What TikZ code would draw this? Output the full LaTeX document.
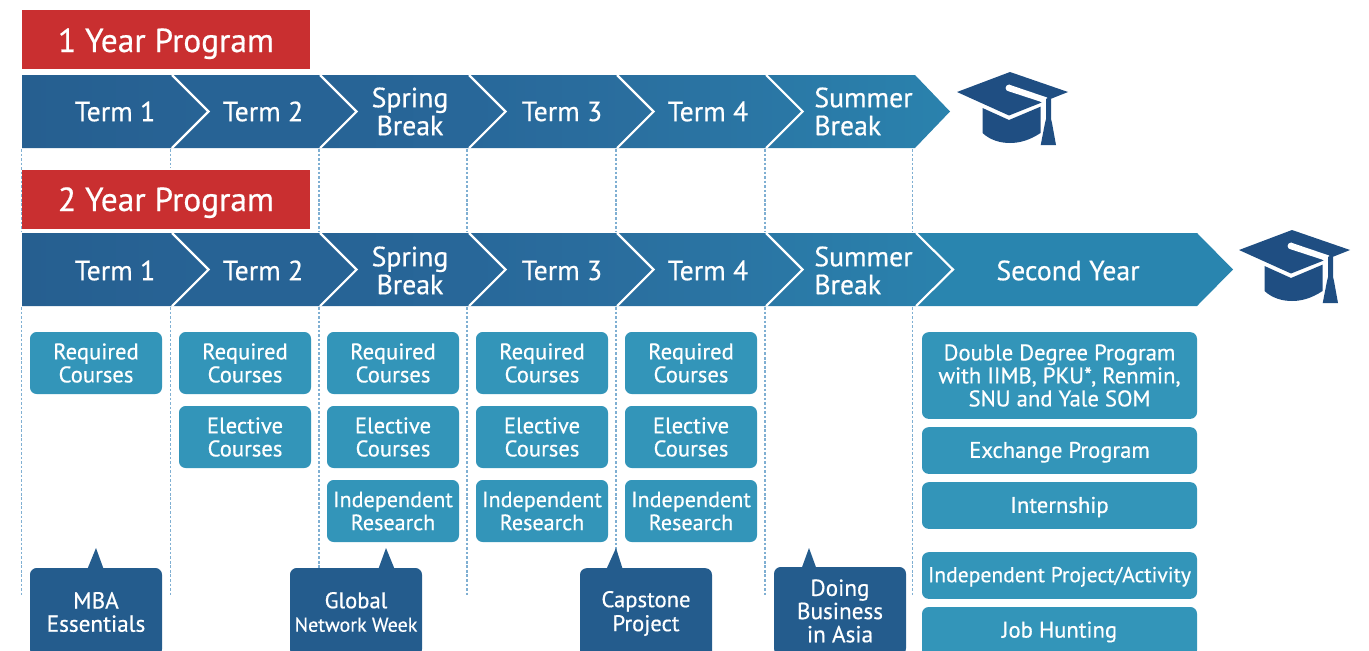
\documentclass[tikz,border=0pt]{standalone}
\usepackage{fontspec}
\setmainfont[RawFeature={embolden=0.5}]{PT Sans}
\definecolor{redbox}{HTML}{C92F30}
\definecolor{cA}{HTML}{265F90}
\definecolor{cB}{HTML}{276395}
\definecolor{cC}{HTML}{28689A}
\definecolor{cD}{HTML}{2A6F9F}
\definecolor{cE}{HTML}{2A78A6}
\definecolor{cF}{HTML}{2A82AD}
\definecolor{cG}{HTML}{2985AF}
\definecolor{lightbox}{HTML}{3395B9}
\definecolor{darkbox}{HTML}{245C8D}
\definecolor{capblue}{HTML}{1F4E82}
\definecolor{dashblue}{HTML}{7FAFD2}
\tikzset{
  x=0.75pt,y=-0.75pt,
  redlabel/.style={fill=redbox,text=white,minimum width=216pt,minimum height=44.25pt,inner sep=0pt,font=\fontsize{25}{26}\selectfont},
  chevtext/.style={text=white,align=center,inner sep=0pt,font=\fontsize{20.8}{21}\selectfont},
  sep/.style={draw=white,line width=1.6pt},
  guide/.style={draw=dashblue,line width=0.9pt,dash pattern=on 2pt off 1.4pt},
  tbox/.style={fill=lightbox,text=white,rounded corners=5pt,align=center,inner sep=0pt,minimum width=99pt,font=\fontsize{17}{17.25}\selectfont},
  rbox/.style={tbox,minimum width=206.25pt},
  callout/.style={fill=darkbox,text=white,rounded corners=5pt,align=center,inner sep=0pt,minimum width=99pt,minimum height=66pt,font=\fontsize{17.4}{17.4}\selectfont},
  gradcap/.pic={
    \fill[capblue] (-27.5,36) -- (-1,48) -- (30.5,34.7) -- (30.5,61) .. controls (20,68) and (10,71) .. (0,71) .. controls (-10,71) and (-20,68) .. (-27.5,61) -- cycle;
    \fill[capblue] (-53,20) -- (0,0) -- (58,20) -- (-1,43.5) -- cycle;
    \fill[white] (-1,16) circle[radius=3.4];
    \fill[white] (-1,12.6) -- (37,25.5) -- (37,28.5) -- (33,31.5) -- (30,29.5) -- (-1,19.4) -- cycle;
    \fill[capblue] (36,26.5) -- (41,26.5) -- (41,47) -- (42,51) -- (46,73) -- (30.7,73) -- (35,51) -- (36,47) -- cycle;
  }
}
\begin{document}
\begin{tikzpicture}
\useasboundingbox (0,0) rectangle (1369,650);
\clip (0,0) rectangle (1369,650);
% guides
\foreach \n/\gx/\ga/\gb in {a/21.5/149/232,b/170.5/149/168,c/319/149/232,d/467/149/232,e/616/149/232,f/765/149/232,g/912.5/149/232}{
  \coordinate (top\n) at (\gx,\ga);
  \coordinate (bot\n) at (\gx,\gb);
  \draw[guide] (top\n) -- (bot\n);
}
\foreach \n/\gx/\gb in {a/21.5/597,b/170.5/597,c/319/570,d/467/597,e/616/570,f/765/597,g/912.5/597}{
  \coordinate (ltop\n) at (\gx,307);
  \coordinate (lbot\n) at (\gx,\gb);
  \draw[guide] (ltop\n) -- (lbot\n);
}
% red labels
\node[redlabel,text height=20pt,text depth=1.2pt] (one) at (166,39.5) {1 Year Program};
\node[redlabel,text height=20pt,text depth=2.3pt] (two) at (166,199.2) {2 Year Program};
% chevrons
\foreach \ty/\ry in {75/1,233/2}{
  \pgfmathsetmacro{\my}{\ty+36.5}
  \pgfmathsetmacro{\by}{\ty+73}
  \path[left color=cA,right color=cB] (22,\ty) -- (172,\ty) -- (208.5,\my) -- (172,\by) -- (22,\by) -- cycle;
  \path[left color=cB,right color=cB] (172,\ty) -- (320,\ty) -- (356.5,\my) -- (320,\by) -- (172,\by) -- (208.5,\my) -- cycle;
  \path[left color=cB,right color=cC] (320,\ty) -- (469,\ty) -- (505.5,\my) -- (469,\by) -- (320,\by) -- (356.5,\my) -- cycle;
  \path[left color=cC,right color=cD] (469,\ty) -- (617,\ty) -- (653.5,\my) -- (617,\by) -- (469,\by) -- (505.5,\my) -- cycle;
  \path[left color=cD,right color=cE] (617,\ty) -- (766,\ty) -- (802.5,\my) -- (766,\by) -- (617,\by) -- (653.5,\my) -- cycle;
  \draw[sep] (172,\ty) -- (208.5,\my) -- (172,\by);
  \draw[sep] (320,\ty) -- (356.5,\my) -- (320,\by);
  \draw[sep] (469,\ty) -- (505.5,\my) -- (469,\by);
  \draw[sep] (617,\ty) -- (653.5,\my) -- (617,\by);
}
\path[left color=cE,right color=cF] (766,75) -- (915,75) -- (950,111.5) -- (915,148) -- (766,148) -- (802.5,111.5) -- cycle;
\draw[sep] (766,75) -- (802.5,111.5) -- (766,148);
\path[left color=cE,right color=cF] (766,233) -- (916,233) -- (953,269.5) -- (916,306) -- (766,306) -- (802.5,269.5) -- cycle;
\draw[sep] (766,233) -- (802.5,269.5) -- (766,306);
\path[fill=cG] (916,233) -- (1197,233) -- (1233,269.5) -- (1197,306) -- (916,306) -- (953,269.5) -- cycle;
\draw[sep] (916,233) -- (953,269.5) -- (916,306);
% chevron text
\foreach \n/\ly in {p/111.5,q/270.5}{
  \node[chevtext] (\n1) at (115,\ly) {Term 1};
  \node[chevtext] (\n2) at (263,\ly) {Term 2};
  \node[chevtext] (\n3) at (410,\ly) {Spring\\Break};
  \node[chevtext] (\n4) at (562,\ly) {Term 3};
  \node[chevtext] (\n5) at (708,\ly) {Term 4};
  \node[chevtext,align=left] (\n6) at (863.5,\ly) {Summer\\Break};
}
\node[chevtext] (q7) at (1068,270.5) {Second Year};
% caps
\pic (capa) at (1010,72) {gradcap};
\pic (capb) at (1292,230) {gradcap};
% course boxes
\foreach \n/\cx in {a/96,b/245,c/393,d/542,e/691}{
  \node[tbox,minimum height=46.5pt] (req\n) at (\cx,363) {Required\\Courses};
}
\foreach \n/\cx in {b/245,c/393,d/542,e/691}{
  \node[tbox,minimum height=46.5pt] (ele\n) at (\cx,437) {Elective\\Courses};
}
\foreach \n/\cx in {c/393,d/542,e/691}{
  \node[tbox,minimum height=46.5pt,font=\fontsize{16.6}{17.25}\selectfont] (ind\n) at (\cx,511) {Independent\\Research};
}
\node[rbox,minimum height=65pt] (dbl) at (1059.5,375.5) {Double Degree Program\\with IIMB, PKU*, Renmin,\\SNU and Yale SOM};
\node[rbox,minimum height=35pt,text depth=1pt] (exc) at (1059.5,450.5) {Exchange Program};
\node[rbox,minimum height=35pt,text depth=1pt] (int) at (1059.5,505.5) {Internship};
\node[rbox,minimum height=35pt,text depth=1.5pt,font=\fontsize{16.2}{17.25}\selectfont] (prj) at (1059.5,575.5) {Independent Project/Activity};
\node[rbox,minimum height=37.5pt] (job) at (1059.5,632) {Job Hunting};
% callouts
\fill[darkbox] (87,570) -- (96,548) -- (104,570) -- cycle;
\fill[darkbox] (378,570) -- (386,548) -- (395,570) -- cycle;
\fill[darkbox] (606,570) -- (616,548) -- (623,570) -- cycle;
\fill[darkbox] (801,570) -- (809,548) -- (817,570) -- cycle;
\node[callout] (mba) at (96,612) {MBA\\Essentials};
\node[callout,font=\fontsize{17}{17.6}\selectfont] (glo) at (356,612) {Global\\{\fontsize{15}{17.6}\selectfont Network Week}};
\node[callout,minimum height=68pt,font=\fontsize{17}{18}\selectfont] (cap) at (646,613.5) {Capstone\\Project};
\node[callout] (asia) at (840,611) {Doing\\Business\\in Asia};
\end{tikzpicture}
\end{document}
